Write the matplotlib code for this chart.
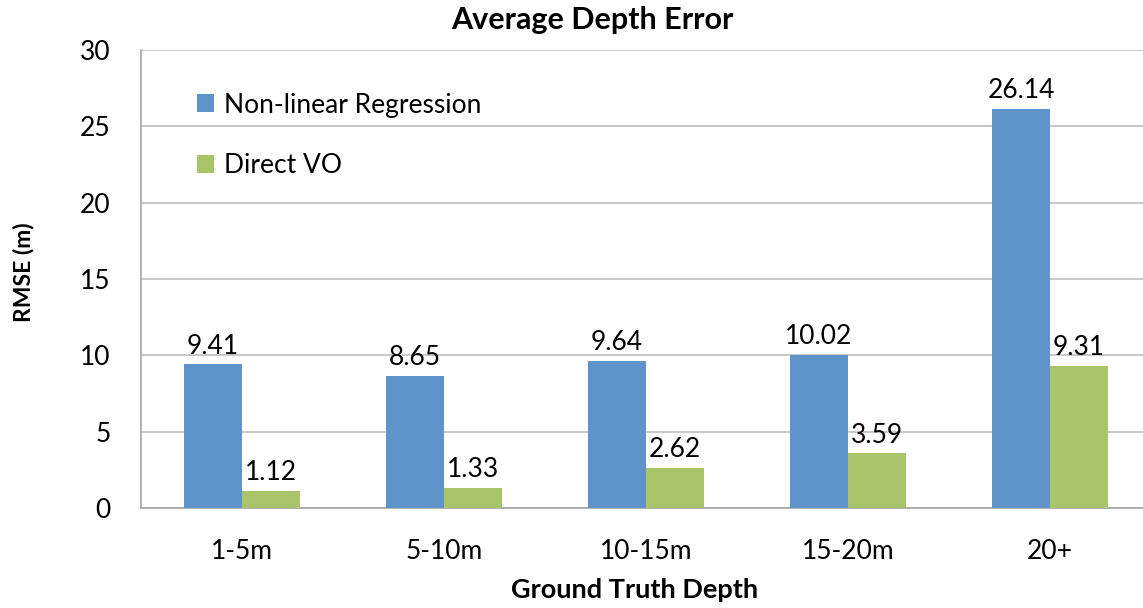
import matplotlib
matplotlib.use("Agg")
import matplotlib.pyplot as plt
import numpy as np

categories = ["1-5m", "5-10m", "10-15m", "15-20m", "20+"]
nonlinear = [9.41, 8.65, 9.64, 10.02, 26.14]
direct_vo = [1.12, 1.33, 2.62, 3.59, 9.31]
series_names = ["Non-linear Regression", "Direct VO"]
yticks = [0, 5, 10, 15, 20, 25, 30]

plt.rcParams['font.family'] = ['Lato', 'DejaVu Sans']

W, H = 1143, 608
fig = plt.figure(figsize=(W / 100, H / 100), dpi=100)
left, right, top, bottom = 141, 1151, 50, 508
ax = fig.add_axes([left / W, (H - bottom) / H, (right - left) / W, (bottom - top) / H])

blue = '#5E94C9'
green = '#A9C46B'
x = np.arange(len(categories))
bw = 0.287
b1 = ax.bar(x - bw / 2, nonlinear, bw, color=blue, label=series_names[0], zorder=3)
b2 = ax.bar(x + bw / 2, direct_vo, bw, color=green, label=series_names[1], zorder=3)

for bars, vals in ((b1, nonlinear), (b2, direct_vo)):
    for r, v in zip(bars, vals):
        ax.annotate(f"{v:.2f}", (r.get_x() + r.get_width() / 2, v), xytext=(0, 4),
                    textcoords='offset points', ha='center', va='bottom', fontsize=19)

ax.set_xlim(-0.5, len(categories) - 0.5)
ax.set_ylim(0, 30)
ax.set_yticks(yticks)
ax.set_xticks(x)
ax.set_xticklabels(categories)
ax.tick_params(axis='both', length=0, labelsize=19)
ax.tick_params(axis='x', pad=22)
ax.tick_params(axis='y', pad=22)
ax.grid(axis='y', color='#BFBFBF', linewidth=1.2, zorder=0)
for s in ['top', 'right']:
    ax.spines[s].set_visible(False)
for s in ['left', 'bottom']:
    ax.spines[s].set_color('#A6A6A6')
    ax.spines[s].set_linewidth(1.2)

ax.set_xlabel("Ground Truth Depth", fontsize=19.5, fontweight='bold')
ax.set_ylabel("RMSE (m)", fontsize=16.5, fontweight='bold')
ax.xaxis.set_label_coords((635 - left) / (right - left), -(590 - bottom) / (bottom - top), transform=ax.transAxes)
ax.xaxis.label.set_va('center')
ax.yaxis.set_label_coords(-(141 - 24) / (right - left), (bottom - 272) / (bottom - top), transform=ax.transAxes)
ax.yaxis.label.set_va('center')
fig.text(592 / W, 1 - 20 / H, "Average Depth Error", ha='center', va='center', fontsize=22, fontweight='bold')

leg = ax.legend(loc='upper left', bbox_to_anchor=((186 - left) / (right - left), (bottom - 82) / (bottom - top)),
                frameon=False, fontsize=19, handlelength=0.65, handleheight=0.65, handletextpad=0.4,
                labelspacing=1.35, borderaxespad=0)

fig.savefig("out.png", dpi=100)
